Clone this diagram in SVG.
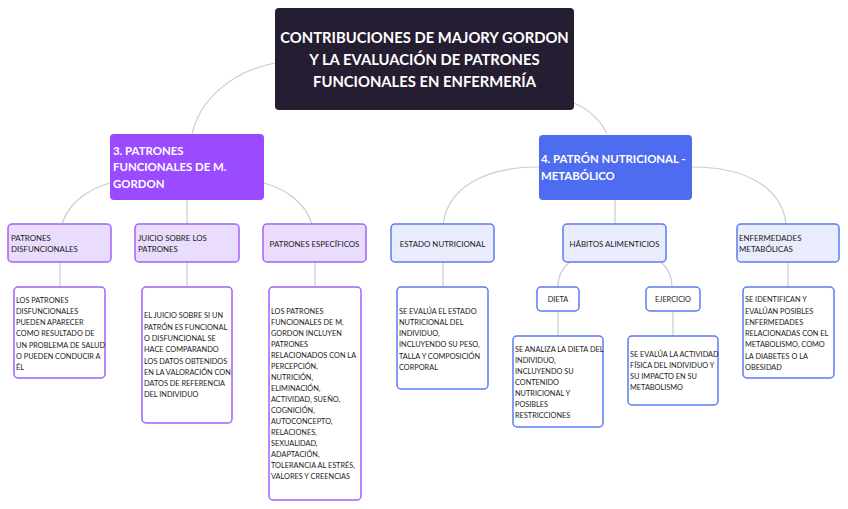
<svg xmlns="http://www.w3.org/2000/svg" width="848" height="509" viewBox="0 0 848 509">
<style>
text{font-family:Lato,"Open Sans","Liberation Sans",sans-serif;fill:#1a1a1a}
.root{fill:#251d31}
.rt{fill:#fff;font-weight:bold;font-size:14.8px;text-anchor:middle}
.mp{fill:#9b4bff}
.mb{fill:#4d6cf0}
.mt{fill:#fff;font-weight:bold;font-size:11.4px}
.p2{fill:#e9dcfd;stroke:#a062f8;stroke-width:1.5}
.b2{fill:#e8ecfc;stroke:#5a7bf2;stroke-width:1.5}
.p3{fill:#fff;stroke:#a062f8;stroke-width:1.5}
.b3{fill:#fff;stroke:#5a7bf2;stroke-width:1.5}
.l2{font-size:7.9px}
.c{text-anchor:middle}
.d{font-size:7.35px}
.con path{fill:none;stroke:#cccccc;stroke-width:1.2}
</style>
<g class="con">
<path d="M275,63 C230,72 200,100 192,134"/>
<path d="M574,103 C590,110 602,122 607,134"/>
<path d="M110,183 C85,190 68,205 62,224"/>
<path d="M187,200 V224"/>
<path d="M264,183 C289,190 306,205 312,224"/>
<path d="M539,167 C480,167 448,190 443,224"/>
<path d="M615,200 V224"/>
<path d="M692,167 C750,167 782,190 786,224"/>
<path d="M60,262 V287"/>
<path d="M187,262 V287"/>
<path d="M315,262 V287"/>
<path d="M443,262 V287"/>
<path d="M570,262 C562,268 558,277 558,287"/>
<path d="M661,262 C668,268 672,277 672,287"/>
<path d="M788,262 V287"/>
<path d="M558,311 V336"/>
<path d="M673,311 V336"/>
</g>
<g id="root">
<rect class="root" x="275" y="8" width="299" height="102" rx="4"/>
<text class="rt" x="424.5" y="43">CONTRIBUCIONES DE MAJORY GORDON</text>
<text class="rt" x="424.5" y="65">Y LA EVALUACIÓN DE PATRONES</text>
<text class="rt" x="424.5" y="87">FUNCIONALES EN ENFERMERÍA</text>
</g>
<g id="n3">
<rect class="mp" x="110" y="134" width="154" height="66" rx="4"/>
<text class="mt" x="113" y="155">3. PATRONES</text>
<text class="mt" x="113" y="171">FUNCIONALES DE M.</text>
<text class="mt" x="113" y="188">GORDON</text>
</g>
<g id="n4">
<rect class="mb" x="539" y="135" width="153" height="65" rx="4"/>
<text class="mt" x="541" y="163">4. PATRÓN NUTRICIONAL -</text>
<text class="mt" x="541" y="180">METABÓLICO</text>
</g>
<g id="disf">
<rect class="p2" x="8" y="224" width="103" height="38" rx="4"/>
<text class="l2" x="11" y="241">PATRONES</text>
<text class="l2" x="11" y="252">DISFUNCIONALES</text>
</g>
<g id="juicio">
<rect class="p2" x="135" y="224" width="104" height="38" rx="4"/>
<text class="l2" x="138" y="241">JUICIO SOBRE LOS</text>
<text class="l2" x="138" y="252">PATRONES</text>
</g>
<g id="espec">
<rect class="p2" x="263" y="224" width="103" height="38" rx="4"/>
<text class="l2 c" x="314.5" y="247">PATRONES ESPECÍFICOS</text>
</g>
<g id="estado">
<rect class="b2" x="391" y="224" width="103" height="38" rx="4"/>
<text class="l2 c" x="442.5" y="247">ESTADO NUTRICIONAL</text>
</g>
<g id="habitos">
<rect class="b2" x="563" y="224" width="103" height="38" rx="4"/>
<text class="l2 c" x="614.5" y="247">HÁBITOS ALIMENTICIOS</text>
</g>
<g id="enferm">
<rect class="b2" x="737" y="224" width="102" height="38" rx="4"/>
<text class="l2" x="739" y="241">ENFERMEDADES</text>
<text class="l2" x="739" y="252">METABÓLICAS</text>
</g>
<g id="disf-d">
<rect class="p3" x="14" y="287" width="91" height="91" rx="4"/>
<text class="d" x="16" y="303">LOS PATRONES</text>
<text class="d" x="16" y="314">DISFUNCIONALES</text>
<text class="d" x="16" y="325">PUEDEN APARECER</text>
<text class="d" x="16" y="336">COMO RESULTADO DE</text>
<text class="d" x="16" y="348">UN PROBLEMA DE SALUD</text>
<text class="d" x="16" y="359">O PUEDEN CONDUCIR A</text>
<text class="d" x="16" y="370">ÉL</text>
</g>
<g id="juicio-d">
<rect class="p3" x="142" y="287" width="90" height="136" rx="4"/>
<text class="d" x="144" y="318">EL JUICIO SOBRE SI UN</text>
<text class="d" x="144" y="330">PATRÓN ES FUNCIONAL</text>
<text class="d" x="144" y="341">O DISFUNCIONAL SE</text>
<text class="d" x="144" y="352">HACE COMPARANDO</text>
<text class="d" x="144" y="364">LOS DATOS OBTENIDOS</text>
<text class="d" x="144" y="375">EN LA VALORACIÓN CON</text>
<text class="d" x="144" y="386">DATOS DE REFERENCIA</text>
<text class="d" x="144" y="397">DEL INDIVIDUO</text>
</g>
<g id="espec-d">
<rect class="p3" x="269" y="287" width="92" height="213" rx="4"/>
<text class="d" x="271" y="314">LOS PATRONES</text>
<text class="d" x="271" y="325">FUNCIONALES DE M.</text>
<text class="d" x="271" y="336">GORDON INCLUYEN</text>
<text class="d" x="271" y="347">PATRONES</text>
<text class="d" x="271" y="358">RELACIONADOS CON LA</text>
<text class="d" x="271" y="369">PERCEPCIÓN,</text>
<text class="d" x="271" y="380">NUTRICIÓN,</text>
<text class="d" x="271" y="391">ELIMINACIÓN,</text>
<text class="d" x="271" y="402">ACTIVIDAD, SUEÑO,</text>
<text class="d" x="271" y="413">COGNICIÓN,</text>
<text class="d" x="271" y="424">AUTOCONCEPTO,</text>
<text class="d" x="271" y="435">RELACIONES,</text>
<text class="d" x="271" y="446">SEXUALIDAD,</text>
<text class="d" x="271" y="457">ADAPTACIÓN,</text>
<text class="d" x="271" y="468">TOLERANCIA AL ESTRÉS,</text>
<text class="d" x="271" y="479">VALORES Y CREENCIAS</text>
</g>
<g id="estado-d">
<rect class="b3" x="397" y="287" width="91" height="102" rx="4"/>
<text class="d" x="399" y="314">SE EVALÚA EL ESTADO</text>
<text class="d" x="399" y="325">NUTRICIONAL DEL</text>
<text class="d" x="399" y="336">INDIVIDUO,</text>
<text class="d" x="399" y="347">INCLUYENDO SU PESO,</text>
<text class="d" x="399" y="359">TALLA Y COMPOSICIÓN</text>
<text class="d" x="399" y="370">CORPORAL</text>
</g>
<g id="dieta">
<rect class="b3" x="537" y="287" width="42" height="24" rx="4"/>
<text class="d c" x="558" y="302">DIETA</text>
</g>
<g id="ejercicio">
<rect class="b3" x="646" y="287" width="54" height="24" rx="4"/>
<text class="d c" x="673" y="302">EJERCICIO</text>
</g>
<g id="enferm-d">
<rect class="b3" x="743" y="287" width="91" height="91" rx="4"/>
<text class="d" x="745" y="302">SE IDENTIFICAN Y</text>
<text class="d" x="745" y="314">EVALÚAN POSIBLES</text>
<text class="d" x="745" y="325">ENFERMEDADES</text>
<text class="d" x="745" y="336">RELACIONADAS CON EL</text>
<text class="d" x="745" y="347">METABOLISMO, COMO</text>
<text class="d" x="745" y="359">LA DIABETES O LA</text>
<text class="d" x="745" y="370">OBESIDAD</text>
</g>
<g id="dieta-d">
<rect class="b3" x="513" y="336" width="90" height="91" rx="4"/>
<text class="d" x="515" y="352">SE ANALIZA LA DIETA DEL</text>
<text class="d" x="515" y="363">INDIVIDUO,</text>
<text class="d" x="515" y="374">INCLUYENDO SU</text>
<text class="d" x="515" y="385">CONTENIDO</text>
<text class="d" x="515" y="396">NUTRICIONAL Y</text>
<text class="d" x="515" y="407">POSIBLES</text>
<text class="d" x="515" y="418">RESTRICCIONES</text>
</g>
<g id="ejercicio-d">
<rect class="b3" x="628" y="336" width="90" height="69" rx="4"/>
<text class="d" x="630" y="357">SE EVALÚA LA ACTIVIDAD</text>
<text class="d" x="630" y="368">FÍSICA DEL INDIVIDUO Y</text>
<text class="d" x="630" y="379">SU IMPACTO EN SU</text>
<text class="d" x="630" y="390">METABOLISMO</text>
</g>
</svg>
